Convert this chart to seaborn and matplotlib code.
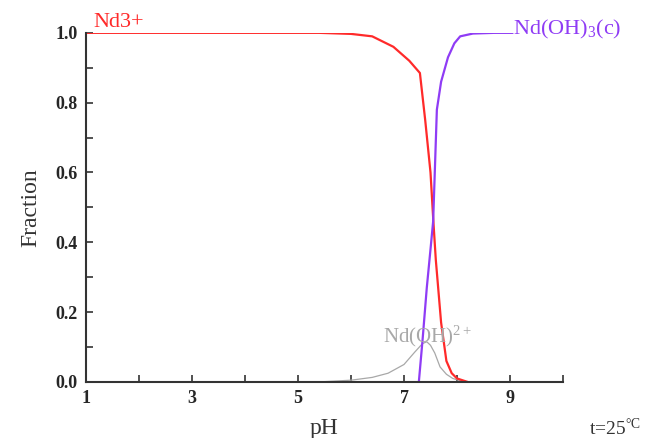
import numpy as np
import pandas as pd
import matplotlib
matplotlib.use("Agg")
import matplotlib.pyplot as plt
from matplotlib.ticker import MultipleLocator, FixedLocator
import seaborn as sns

# species distribution
ph_nd3 = [1.0, 5.4, 6.0, 6.4, 6.8, 7.1, 7.3, 7.4, 7.5, 7.55, 7.6, 7.7, 7.8, 7.9, 8.0, 8.2]
fr_nd3 = [1.0, 1.0, 0.997, 0.99, 0.96, 0.92, 0.885, 0.75, 0.60, 0.47, 0.35, 0.17, 0.06, 0.025, 0.01, 0.0]

ph_ohc = [7.28, 7.35, 7.43, 7.5, 7.55, 7.62, 7.7, 7.83, 7.95, 8.06, 8.3, 8.7, 9.05]
fr_ohc = [0.0, 0.12, 0.27, 0.38, 0.46, 0.78, 0.86, 0.93, 0.97, 0.99, 0.998, 1.0, 1.0]

ph_oh2 = [5.4, 6.0, 6.4, 6.7, 7.0, 7.2, 7.35, 7.43, 7.5, 7.58, 7.68, 7.8, 7.92, 8.05, 8.2]
fr_oh2 = [0.0, 0.005, 0.013, 0.025, 0.05, 0.085, 0.11, 0.115, 0.105, 0.083, 0.043, 0.022, 0.01, 0.004, 0.0]

sns.set_style("white")
plt.rcParams['font.family'] = ['Liberation Serif', 'DejaVu Serif']
plt.rcParams['mathtext.fontset'] = 'custom'
plt.rcParams['mathtext.rm'] = 'Liberation Serif'
plt.rcParams['mathtext.it'] = 'Liberation Serif:italic'
plt.rcParams['mathtext.bf'] = 'Liberation Serif:bold'

red = "#ff2a2a"
purple = "#8f3cf5"
grey = "#a8a8a8"

fig = plt.figure(figsize=(6.49, 4.38), dpi=100)
ax = fig.add_axes([0.1325, 0.128, 0.735, 0.797])

sns.lineplot(x=ph_oh2, y=fr_oh2, ax=ax, color=grey, lw=0.9, sort=False)
sns.lineplot(x=ph_nd3, y=fr_nd3, ax=ax, color=red, lw=1.6, sort=False)
sns.lineplot(x=ph_ohc, y=fr_ohc, ax=ax, color=purple, lw=1.6, sort=False)

ax.set_xlim(1, 10)
ax.set_ylim(0, 1)
ax.xaxis.set_major_locator(FixedLocator([1, 3, 5, 7, 9]))
ax.xaxis.set_minor_locator(FixedLocator([2, 4, 6, 8, 10]))
ax.yaxis.set_major_locator(MultipleLocator(0.2))
ax.yaxis.set_minor_locator(MultipleLocator(0.1))
ax.yaxis.set_major_formatter(matplotlib.ticker.FormatStrFormatter('%.1f'))
ax.tick_params(which='both', direction='in', length=5, width=1.2, color='#333333',
               bottom=True, left=True)
ax.tick_params(labelsize=13, pad=6)
for lab in ax.get_xticklabels() + ax.get_yticklabels():
    lab.set_fontweight('bold')

for s in ['top', 'right']:
    ax.spines[s].set_visible(False)
for s in ['left', 'bottom']:
    ax.spines[s].set_color('#333333')
    ax.spines[s].set_linewidth(1.5)

ax.set_xlabel("pH", fontsize=17, labelpad=8, color='#333333')
ax.set_ylabel("Fraction", fontsize=17, labelpad=10, color='#333333')

ax.text(1.13, 1.03, "Nd3+", color=red, fontsize=16, va='center', ha='left')
ax.text(9.06, 1.01, r"Nd(OH)$_3$(c)", color=purple, fontsize=16, va='center', ha='left')
ax.text(6.6, 0.13, r"Nd(OH)$^{2+}$", color=grey, fontsize=15, va='center', ha='left')
fig.text(0.907, 0.022, r"t=25$^{\rm \degree C}$", fontsize=14, va='center', ha='left', color='#333333')

fig.savefig("out.png", dpi=100)
